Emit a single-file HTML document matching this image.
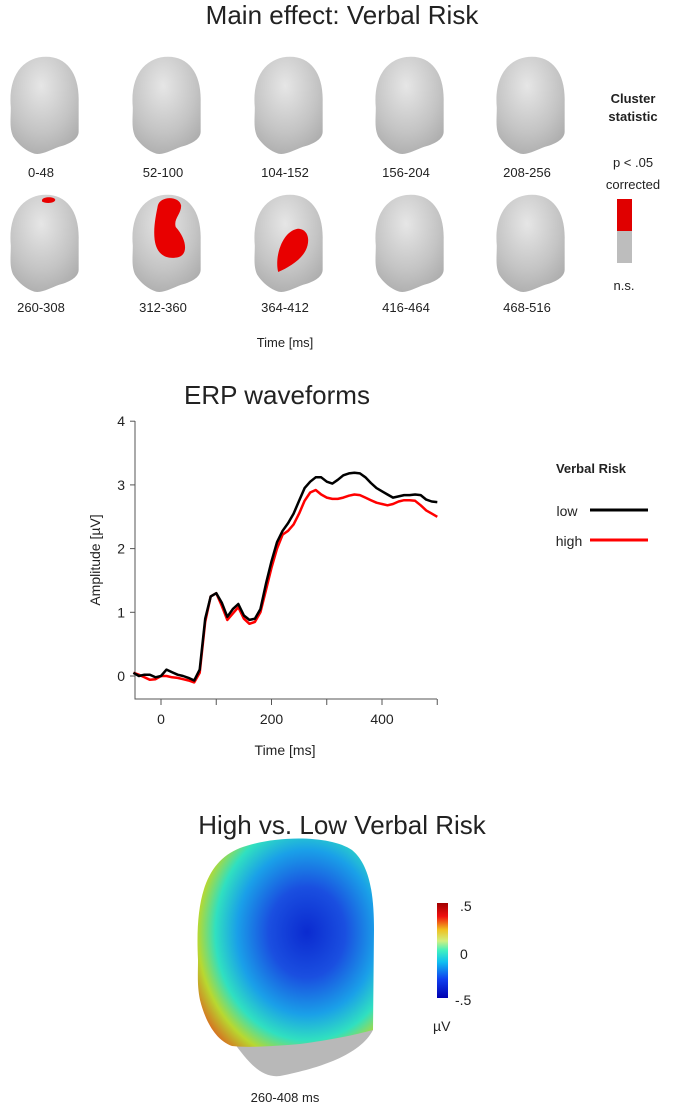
<!DOCTYPE html>
<html><head><meta charset="utf-8">
<style>
body{margin:0;background:#fff;width:685px;height:1109px;overflow:hidden;font-family:"Liberation Sans",sans-serif;}
svg{position:absolute;left:0;top:0;}
text{font-family:"Liberation Sans",sans-serif;fill:#222;}
</style></head>
<body>
<svg id="fig" width="685" height="1109" viewBox="0 0 685 1109">
<defs>
<radialGradient id="gray" cx="0.45" cy="0.3" r="0.8">
<stop offset="0" stop-color="#e6e6e6"/><stop offset="0.6" stop-color="#c4c4c4"/><stop offset="1" stop-color="#a8a8a8"/>
</radialGradient>
<radialGradient id="blue" cx="0.62" cy="0.45" r="0.72">
<stop offset="0" stop-color="#0b2bd0"/><stop offset="0.3" stop-color="#1a4fe0"/><stop offset="0.55" stop-color="#1aa0e8"/><stop offset="0.72" stop-color="#30e0c0"/><stop offset="0.86" stop-color="#b8d830"/><stop offset="1" stop-color="#d86a20"/>
</radialGradient>
<linearGradient id="cbar" x1="0" y1="1" x2="0" y2="0">
<stop offset="0" stop-color="#0000b0"/><stop offset="0.2" stop-color="#1040f0"/><stop offset="0.38" stop-color="#10c0f0"/><stop offset="0.5" stop-color="#40f0c0"/><stop offset="0.6" stop-color="#d0f080"/><stop offset="0.72" stop-color="#f0c020"/><stop offset="0.86" stop-color="#f01010"/><stop offset="1" stop-color="#a00000"/>
</linearGradient>
</defs>
<text x="342" y="24" font-size="26" text-anchor="middle">Main effect: Verbal Risk</text>
<g id="heads"></g>
<text x="285" y="347" font-size="13" text-anchor="middle">Time [ms]</text>
<text x="633" y="103" font-size="13" font-weight="bold" text-anchor="middle">Cluster</text>
<text x="633" y="121" font-size="13" font-weight="bold" text-anchor="middle">statistic</text>
<text x="633" y="167" font-size="13" text-anchor="middle">p &lt; .05</text>
<text x="633" y="189" font-size="13" text-anchor="middle">corrected</text>
<rect x="617" y="199" width="15" height="32" fill="#e00000"/>
<rect x="617" y="231" width="15" height="32" fill="#bdbdbd"/>
<text x="624" y="290" font-size="13" text-anchor="middle">n.s.</text>

<text x="277" y="404" font-size="26" text-anchor="middle">ERP waveforms</text>
<g id="chart"></g>
<text x="591" y="473" font-size="13" font-weight="bold" text-anchor="middle">Verbal Risk</text>
<text x="567" y="516" font-size="14" text-anchor="middle">low</text>
<line x1="590" y1="510" x2="648" y2="510" stroke="#000" stroke-width="3"/>
<text x="569" y="546" font-size="14" text-anchor="middle">high</text>
<line x1="590" y1="540" x2="648" y2="540" stroke="#f00" stroke-width="3"/>

<text x="342" y="834" font-size="26" text-anchor="middle">High vs. Low Verbal Risk</text>
<g>
<path d="M232,1040 C250,1065 262,1078 280,1076 C320,1068 360,1055 373,1030 L373,1015 L230,1030 Z" fill="#b8b8b8"/>
<path d="M198,960 C195,900 205,862 240,848 C275,835 330,835 352,850 C370,865 374,895 374,930 L373,1030 C355,1035 330,1040 300,1044 C275,1046 250,1048 232,1046 C215,1040 205,1020 200,1000 C197,985 198,975 198,960 Z" fill="url(#blue)"/>
</g>
<rect x="437" y="903" width="11" height="95" fill="url(#cbar)"/>
<text x="460" y="911" font-size="14">.5</text>
<text x="460" y="959" font-size="14">0</text>
<text x="455" y="1005" font-size="14">-.5</text>
<text x="433" y="1031" font-size="14">µV</text>
<text x="285" y="1102" font-size="13" text-anchor="middle">260-408 ms</text>
</svg>
<script>
const timeWindows=["0-48","52-100","104-152","156-204","208-256","260-308","312-360","364-412","416-464","468-516"];
const significant=[0,0,0,0,0,1,2,3,0,0];
const times=[-50,-40,-30,-20,-10,0,10,20,30,40,50,60,70,80,90,100,110,120,130,140,150,160,170,180,190,200,210,220,230,240,250,260,270,280,290,300,310,320,330,340,350,360,370,380,390,400,410,420,430,440,450,460,470,480,490,500];
const lowValues=[0.05,0.0,0.02,0.02,-0.02,0.0,0.1,0.06,0.02,0.0,-0.03,-0.07,0.1,0.9,1.25,1.3,1.15,0.93,1.05,1.13,0.95,0.88,0.9,1.05,1.45,1.8,2.1,2.28,2.4,2.55,2.75,2.95,3.05,3.12,3.12,3.05,3.02,3.08,3.15,3.18,3.19,3.18,3.12,3.03,2.95,2.9,2.85,2.8,2.82,2.84,2.84,2.85,2.84,2.77,2.74,2.73];
const highValues=[0.05,0.02,-0.02,-0.06,-0.05,0.0,0.0,-0.02,-0.03,-0.05,-0.07,-0.1,0.05,0.85,1.25,1.3,1.1,0.88,0.98,1.08,0.9,0.82,0.85,1.0,1.35,1.7,2.0,2.22,2.28,2.38,2.55,2.75,2.88,2.92,2.85,2.8,2.78,2.78,2.8,2.83,2.85,2.84,2.8,2.76,2.72,2.7,2.68,2.7,2.74,2.76,2.76,2.75,2.68,2.6,2.55,2.5];
const xTicks=[0,200,400];
const xMinor=[100,300,500];
const yTicks=[0,1,2,3,4];

const NS="http://www.w3.org/2000/svg";
function mk(tag,attrs,parent){const e=document.createElementNS(NS,tag);for(const k in attrs)e.setAttribute(k,attrs[k]);parent.appendChild(e);return e;}

// heads
const hg=document.getElementById('heads');
const colX=[3,125,247,368,489],rowY=[55,193],labY=[177,312];
const blobs={1:"M50,8 C52,4 66,4 67,8 C67,12 55,13 50,10 Z",2:"M42,15 C45,3 70,3 72,15 C72,25 62,30 65,40 C80,55 82,75 65,76 C50,78 40,70 38,55 C36,40 40,25 42,15 Z",3:"M40,93 C35,75 45,45 65,42 C78,42 82,55 75,68 C68,80 52,88 40,93 Z"};
timeWindows.forEach((lab,i)=>{
  const r=Math.floor(i/5),c=i%5;
  const g=mk('g',{transform:`translate(${colX[c]},${rowY[r]}) scale(0.78,0.85)`},hg);
  
  
  mk('path',{d:"M10,62 C6,22 28,2 55,2 C82,2 98,22 97,55 L97,90 C97,98 88,104 72,108 C60,112 50,118 40,116 C30,113 20,106 13,96 C8,86 10,75 10,62 Z",fill:"url(#gray)"},g);
  if(significant[i]) mk('path',{d:blobs[significant[i]],fill:"#e80000"},g);
  const t=mk('text',{x:colX[c]+38,y:labY[r],'font-size':13,'text-anchor':'middle'},hg);
  t.textContent=lab;
  
  
});

// chart
const ch=document.getElementById('chart');
const X=t=>161+(t-0)*0.5525, Y=v=>676-v*63.7;
const ax=mk('path',{d:`M135,421 L135,699 L437,699`,fill:'none',stroke:'#555','stroke-width':1},ch);


yTicks.forEach(v=>{
  mk('line',{x1:130,x2:135,y1:Y(v),y2:Y(v),stroke:'#555'},ch);
  const t=mk('text',{x:125,y:Y(v)+5,'font-size':14,'text-anchor':'end'},ch);t.textContent=v;
  
  
});
xTicks.concat(xMinor).forEach(v=>mk('line',{x1:X(v),x2:X(v),y1:699,y2:705,stroke:'#555'},ch));
xTicks.forEach(v=>{
  const t=mk('text',{x:X(v),y:724,'font-size':14,'text-anchor':'middle'},ch);t.textContent=v;
  
  
});
const xt=mk('text',{x:285,y:755,'font-size':14,'text-anchor':'middle'},ch);xt.textContent='Time [ms]';


const yt=mk('text',{x:0,y:0,'font-size':14,'text-anchor':'middle',transform:'translate(100,560) rotate(-90)'},ch);yt.textContent='Amplitude [µV]';


function line(vals,col,name){
  const d=vals.map((v,i)=>(i?'L':'M')+X(times[i]).toFixed(1)+','+Y(v).toFixed(1)).join(' ');
  const p=mk('path',{d:d,fill:'none',stroke:col,'stroke-width':2.5,'stroke-linejoin':'round'},ch);
  
  
}
line(highValues,'#f00','high-risk-line');
line(lowValues,'#000','low-risk-line');
</script>
</body></html>
